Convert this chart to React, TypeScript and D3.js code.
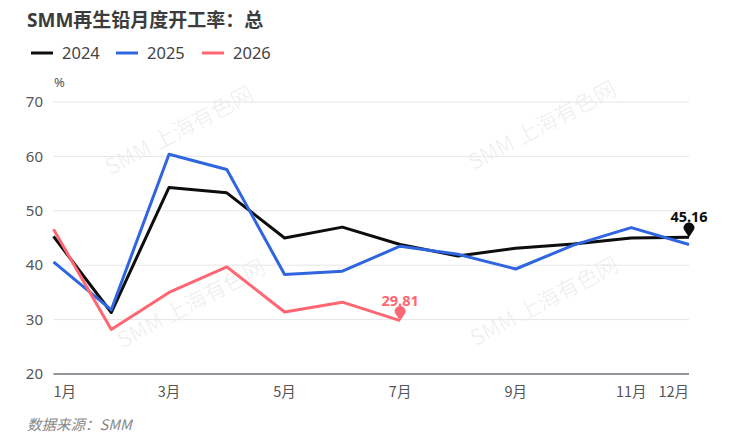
import React, { useMemo } from 'react';
import * as d3 from 'd3';

const WIDTH = 732;
const HEIGHT = 444;

const months = ['1月', '2月', '3月', '4月', '5月', '6月', '7月', '8月', '9月', '10月', '11月', '12月'];
const shownMonths = ['1月', '3月', '5月', '7月', '9月', '11月', '12月'];
const yTicks = [20, 30, 40, 50, 60, 70];

const v2024 = [45.3, 31.3, 54.3, 53.3, 45.0, 47.0, 43.8, 41.7, 43.1, 43.9, 45.0, 45.16];
const v2025 = [40.6, 31.8, 60.4, 57.6, 38.3, 38.9, 43.5, 42.0, 39.3, 43.7, 46.9, 43.8];
const v2026 = [46.6, 28.2, 35.0, 39.7, 31.4, 33.2, 29.81];

const seriesNames = ['2024', '2025', '2026'];
const seriesColors = ['#0d0d0d', '#2f66e0', '#ff6673'];

// 水印位置
const watermarks = [
  [180, 132],
  [543, 127],
  [192, 305],
  [545, 303],
];

const margin = { l: 53.5, r: 43, t: 102, b: 70 };

const FONT = '"Noto Sans", "Noto Sans CJK SC", sans-serif';
const CJK = '"Noto Sans CJK SC", sans-serif';

const pinPath = 'M0,0 L-4.3,-6.3 A5.3,5.3 0 1,1 4.3,-6.3 Z';

const App = () => {
  const x = useMemo(
    () => d3.scalePoint<string>().domain(months).range([margin.l, WIDTH - margin.r]),
    []
  );
  const y = useMemo(
    () => d3.scaleLinear().domain([20, 70]).range([HEIGHT - margin.b, margin.t]),
    []
  );

  const line = d3
    .line<number>()
    .x((_, i) => x(months[i]) as number)
    .y((d) => y(d));

  const allSeries = [v2024, v2025, v2026];

  // 最后一个点显示标记
  const lastPins = [
    { data: v2024, color: seriesColors[0] },
    { data: v2026, color: seriesColors[2] },
  ];

  return (
    <svg
      width={WIDTH}
      height={HEIGHT}
      viewBox={`0 0 ${WIDTH} ${HEIGHT}`}
      style={{ position: 'absolute', left: 0, top: 0, fontFamily: FONT }}
    >
      <rect width={WIDTH} height={HEIGHT} fill="#fff" />
      <text x={27} y={27} fontSize={19} fontWeight="bold" fill="#3c3c3c">
        SMM再生铅月度开工率：总
      </text>

      {/* legend */}
      {seriesNames.map((name, i) => {
        const lx = [31, 116, 202][i];
        return (
          <g key={name} transform={`translate(${lx},53)`}>
            <line x1={0} x2={22} y1={0} y2={0} stroke={seriesColors[i]} strokeWidth={3} />
            <text x={31} y={6} fontSize={16.5} fill="#444">
              {name}
            </text>
          </g>
        );
      })}

      <text x={54} y={87} fontSize={13} fill="#555">
        %
      </text>

      {/* watermark */}
      {watermarks.map(([cx, cy], i) => (
        <text
          key={`w-${i}`}
          transform={`translate(${cx},${cy}) rotate(-28)`}
          textAnchor="middle"
          dominantBaseline="middle"
          fontSize={22}
          fill="rgba(0,0,0,0.065)"
          fontFamily={CJK}
        >
          SMM 上海有色网
        </text>
      ))}

      {/* grid + y labels */}
      {yTicks.map((t) => (
        <g key={t}>
          {t !== 20 && (
            <line
              x1={margin.l}
              x2={WIDTH - margin.r}
              y1={y(t)}
              y2={y(t)}
              stroke="#e6e6e6"
              strokeWidth={1}
            />
          )}
          <text x={43} y={y(t)} dy="0.35em" textAnchor="end" fontSize={15} fill="#555">
            {t}
          </text>
        </g>
      ))}
      <line
        x1={margin.l}
        x2={WIDTH - margin.r}
        y1={y(20)}
        y2={y(20)}
        stroke="#6e7079"
        strokeWidth={1.5}
      />

      {shownMonths.map((m, i) => {
        let anchor = 'middle';
        if (i === 0) anchor = 'start';
        if (i === shownMonths.length - 1) anchor = 'end';
        return (
          <text
            key={m}
            x={x(m)}
            y={y(20) + 23}
            textAnchor={anchor}
            fontSize={14.5}
            fill="#555"
            fontFamily={CJK}
          >
            {m}
          </text>
        );
      })}

      {/* lines */}
      {allSeries.map((s, i) => (
        <path
          key={`l-${i}`}
          d={line(s) || ''}
          fill="none"
          stroke={seriesColors[i]}
          strokeWidth={3}
          strokeLinejoin="round"
        />
      ))}

      {lastPins.map(({ data, color }, i) => {
        const idx = data.length - 1;
        const px = x(months[idx]) as number;
        const py = y(data[idx]);
        return (
          <g key={`p-${i}`} transform={`translate(${px},${py})`}>
            <path d={pinPath} fill={color} />
            <text y={-15} textAnchor="middle" fontSize={14.5} fontWeight="bold" fill={color}>
              {data[idx].toFixed(2)}
            </text>
          </g>
        );
      })}

      <text x={27} y={430} fontSize={14.5} fontStyle="italic" fill="#888" fontFamily={CJK}>
        数据来源：SMM
      </text>
    </svg>
  );
};

export default App;
